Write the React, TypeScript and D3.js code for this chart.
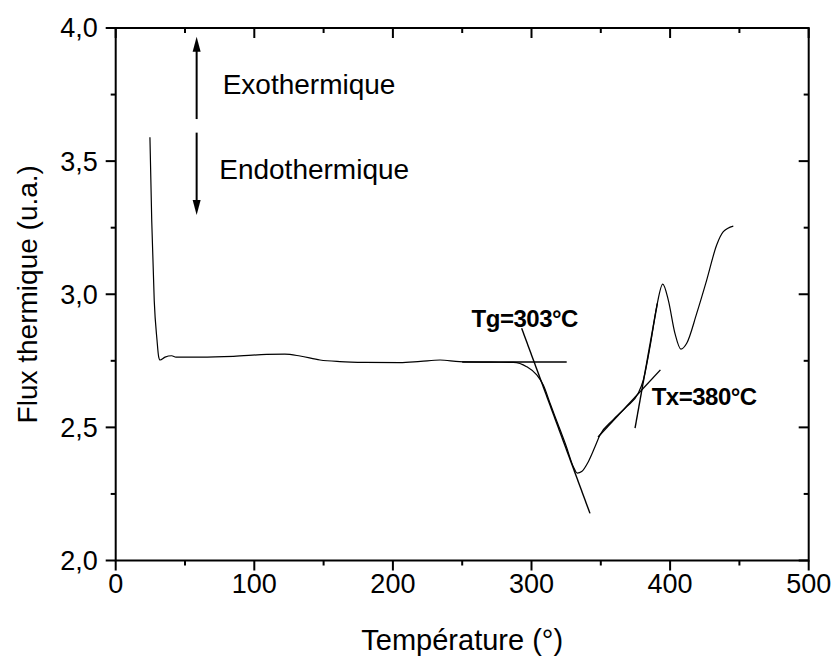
import React from "react";
import * as d3 from "d3";

// ---- data ----
const temperature = [24.7, 26.0, 27.8, 29.8, 31.0, 32.0, 35.6, 40.4, 43.5, 46.4, 60.8, 85, 108.9, 122, 133, 147.4, 161.8, 180, 205, 220, 234, 248, 270, 286.9, 296.5, 303.8, 308.5, 314, 319.1, 325, 330.2, 333.0, 336.2, 341.0, 345.8, 349.4, 358.8, 368.7, 377.0, 380.7, 385.5, 390.3, 394.7, 398.7, 403.5, 407.8, 412.0, 419.2, 426.4, 433.6, 438.4, 445.6];
const flux = [3.59, 3.276, 2.976, 2.828, 2.765, 2.753, 2.764, 2.769, 2.764, 2.764, 2.764, 2.767, 2.774, 2.775, 2.768, 2.753, 2.747, 2.744, 2.743, 2.748, 2.753, 2.747, 2.745, 2.744, 2.728, 2.697, 2.659, 2.582, 2.512, 2.43, 2.352, 2.328, 2.334, 2.371, 2.427, 2.471, 2.528, 2.578, 2.628, 2.678, 2.803, 2.953, 3.038, 2.978, 2.853, 2.794, 2.816, 2.928, 3.053, 3.185, 3.235, 3.256];

// tangent construction lines [x1, y1, x2, y2]
const tangentBaseline = [250, 2.7456, 325.4, 2.7456];
const tangentTg = [292.9, 2.872, 342.2, 2.177];
const tangentTxLow = [348.0, 2.464, 393.0, 2.716];
const tangentTxHigh = [374.7, 2.497, 390.8, 2.966];

const xTicks = [0, 100, 200, 300, 400, 500];
const xMinorTicks = [50, 150, 250, 350, 450];
const yTicks = [2.0, 2.5, 3.0, 3.5, 4.0];
const yMinorTicks = [2.25, 2.75, 3.25, 3.75];

const xTitle = "Température (°)";
const yTitle = "Flux thermique (u.a.)";
const tgLabel = "Tg=303°C";
const txLabel = "Tx=380°C";
const exoLabel = "Exothermique";
const endoLabel = "Endothermique";

const FONT = "'Liberation Sans', Arial, Helvetica, sans-serif";

export default function App() {
  const W = 835, H = 657;
  const left = 115.7, right = 808.7, top = 28, bottom = 560.5;
  const x = d3.scaleLinear().domain([0, 500]).range([left, right]);
  const y = d3.scaleLinear().domain([2, 4]).range([bottom, top]);

  const pts: [number, number][] = temperature.map((t, i) => [t, flux[i]]);
  const line = d3
    .line<[number, number]>()
    .x((d) => x(d[0]))
    .y((d) => y(d[1]))
    .curve(d3.curveMonotoneX);

  const seg = (s: number[], key: string, w = 1.4) => (
    <line key={key} x1={x(s[0])} y1={y(s[1])} x2={x(s[2])} y2={y(s[3])} stroke="#000" strokeWidth={w} />
  );

  const arrowX = x(58.4);
  const exoTip = y(3.967), exoTail = y(3.658);
  const endoTail = y(3.607), endoTip = y(3.298);
  const fmt = (v: number) => v.toFixed(1).replace(".", ",");

  return (
    <svg width={W} height={H} style={{ position: "absolute", left: 0, top: 0, background: "#fff" }} fontFamily={FONT}>
      <rect x={0} y={0} width={W} height={H} fill="#fff" />
      {/* curve */}
      <path d={line(pts) || ""} fill="none" stroke="#000" strokeWidth={1.2} />
      {/* tangents */}
      {seg(tangentBaseline, "b")}
      {seg(tangentTg, "tg")}
      {seg(tangentTxLow, "txl")}
      {seg(tangentTxHigh, "txh")}

      {/* frame */}
      <rect x={left} y={top} width={right - left} height={bottom - top} fill="none" stroke="#000" strokeWidth={2} />

      {/* bottom ticks (outward) */}
      {xTicks.map((t) => (
        <line key={"xb" + t} x1={x(t)} x2={x(t)} y1={bottom} y2={bottom + 10} stroke="#000" strokeWidth={2} />
      ))}
      {xMinorTicks.map((t) => (
        <line key={"xbm" + t} x1={x(t)} x2={x(t)} y1={bottom} y2={bottom + 5} stroke="#000" strokeWidth={2} />
      ))}
      {/* top ticks (inward) */}
      {xTicks.map((t) => (
        <line key={"xt" + t} x1={x(t)} x2={x(t)} y1={top} y2={top + 10} stroke="#000" strokeWidth={2} />
      ))}
      {xMinorTicks.map((t) => (
        <line key={"xtm" + t} x1={x(t)} x2={x(t)} y1={top} y2={top + 5} stroke="#000" strokeWidth={2} />
      ))}
      {/* left ticks (outward) */}
      {yTicks.map((t) => (
        <line key={"yl" + t} x1={left - 10} x2={left} y1={y(t)} y2={y(t)} stroke="#000" strokeWidth={2} />
      ))}
      {yMinorTicks.map((t) => (
        <line key={"ylm" + t} x1={left - 5} x2={left} y1={y(t)} y2={y(t)} stroke="#000" strokeWidth={2} />
      ))}
      {/* right ticks (inward) */}
      {yTicks.map((t) => (
        <line key={"yr" + t} x1={right - 10} x2={right} y1={y(t)} y2={y(t)} stroke="#000" strokeWidth={2} />
      ))}
      {yMinorTicks.map((t) => (
        <line key={"yrm" + t} x1={right - 5} x2={right} y1={y(t)} y2={y(t)} stroke="#000" strokeWidth={2} />
      ))}

      {/* tick labels */}
      {xTicks.map((t) => (
        <text key={"xl" + t} x={x(t)} y={bottom + 32} fontSize={27} textAnchor="middle" fill="#000">
          {t}
        </text>
      ))}
      {yTicks.map((t) => (
        <text key={"yl2" + t} x={left - 18} y={y(t)} dy="0.35em" fontSize={27} textAnchor="end" fill="#000">
          {fmt(t)}
        </text>
      ))}

      {/* axis titles */}
      <text x={(left + right) / 2} y={650} fontSize={29} textAnchor="middle" fill="#000">
        {xTitle}
      </text>
      <text transform={`translate(37, ${(top + bottom) / 2}) rotate(-90)`} fontSize={28} textAnchor="middle" fill="#000">
        {yTitle}
      </text>

      {/* arrows */}
      <line x1={arrowX} x2={arrowX} y1={exoTail} y2={exoTip + 12} stroke="#000" strokeWidth={2} />
      <path d={`M${arrowX},${exoTip} L${arrowX - 4},${exoTip + 15} L${arrowX + 4},${exoTip + 15} Z`} fill="#000" />
      <line x1={arrowX} x2={arrowX} y1={endoTail} y2={endoTip - 12} stroke="#000" strokeWidth={2} />
      <path d={`M${arrowX},${endoTip} L${arrowX - 4},${endoTip - 15} L${arrowX + 4},${endoTip - 15} Z`} fill="#000" />

      <text x={x(77.2)} y={y(3.752)} fontSize={28} fill="#000">
        {exoLabel}
      </text>
      <text x={x(74.7)} y={y(3.432)} fontSize={28} fill="#000">
        {endoLabel}
      </text>

      <text x={x(256.8)} y={y(2.878)} fontSize={24} fontWeight="bold" fill="#000" letterSpacing={-0.5}>
        {tgLabel}
      </text>
      <text x={x(386.7)} y={y(2.584)} fontSize={24} fontWeight="bold" fill="#000" letterSpacing={-0.5}>
        {txLabel}
      </text>
    </svg>
  );
}
